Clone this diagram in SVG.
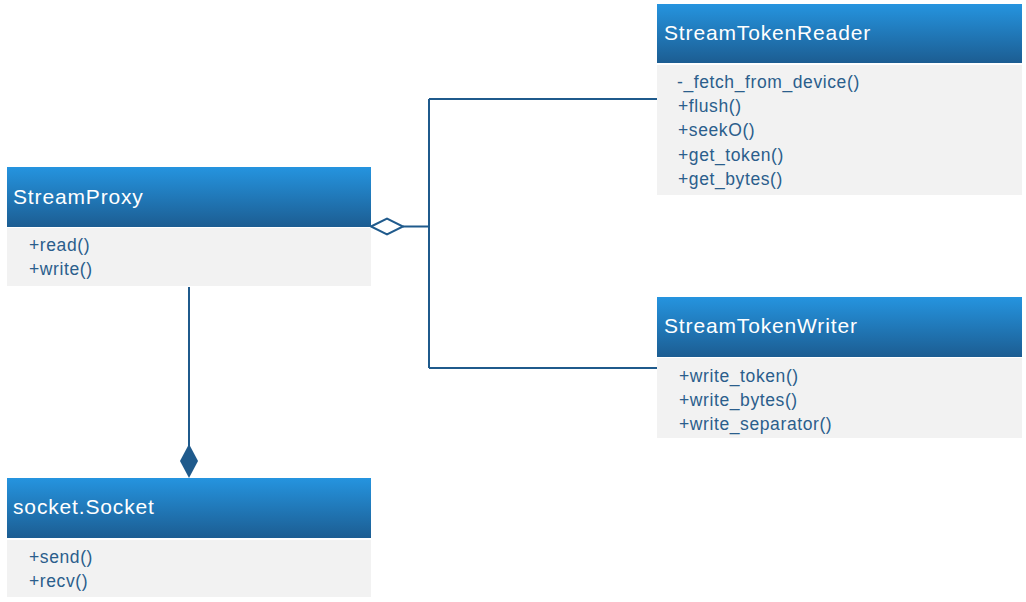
<svg xmlns="http://www.w3.org/2000/svg" width="1026" height="602" viewBox="0 0 1026 602">
<defs>
<linearGradient id="hdr" x1="0" y1="0" x2="0" y2="1">
<stop offset="0" stop-color="#2594df"/>
<stop offset="1" stop-color="#1c5d92"/>
</linearGradient>
<style>
.hdr{fill:url(#hdr)}
.body{fill:#f2f2f2}
.title{font-family:"Liberation Sans",Arial,sans-serif;font-size:21px;letter-spacing:0.85px;fill:#ffffff}
.m{font-family:"Liberation Sans",Arial,sans-serif;font-size:17.5px;letter-spacing:0.6px;fill:#2b5e8c}
.conn{fill:none;stroke:#1f5a8c;stroke-width:2}
</style>
</defs>
<rect width="1026" height="602" fill="#ffffff"/>
<g id="connectors">
<path class="conn" d="M403,226.5 H429 M429,99 V368 M429,99 H657 M429,368 H657"/>
<polygon points="371,226.5 387,218.5 403,226.5 387,234.5" fill="#ffffff" stroke="#1f5a8c" stroke-width="2"/>
<path class="conn" d="M189,287 V446"/>
<polygon points="189,444 198,461 189,478 180,461" fill="#1f5a8c"/>
</g>
<g id="StreamProxy">
<rect class="hdr" x="7" y="167" width="364" height="60"/>
<rect class="body" x="7" y="228" width="364" height="58"/>
<text class="title" x="13" y="204">StreamProxy</text>
<text class="m" x="29" y="251">+read()</text>
<text class="m" x="29" y="275">+write()</text>
</g>
<g id="StreamTokenReader">
<rect class="hdr" x="657" y="4" width="365" height="59"/>
<rect class="body" x="657" y="65" width="365" height="130"/>
<text class="title" x="664" y="40">StreamTokenReader</text>
<text class="m" x="677" y="88">-_fetch_from_device()</text>
<text class="m" x="678" y="112">+flush()</text>
<text class="m" x="678" y="136">+seekO()</text>
<text class="m" x="678" y="161">+get_token()</text>
<text class="m" x="678" y="185">+get_bytes()</text>
</g>
<g id="StreamTokenWriter">
<rect class="hdr" x="657" y="297" width="365" height="60"/>
<rect class="body" x="657" y="358" width="365" height="80"/>
<text class="title" x="664" y="333">StreamTokenWriter</text>
<text class="m" x="679" y="382">+write_token()</text>
<text class="m" x="679" y="406">+write_bytes()</text>
<text class="m" x="679" y="430">+write_separator()</text>
</g>
<g id="socket.Socket">
<rect class="hdr" x="7" y="478" width="364" height="60"/>
<rect class="body" x="7" y="540" width="364" height="57"/>
<text class="title" x="13" y="514">socket.Socket</text>
<text class="m" x="29" y="563">+send()</text>
<text class="m" x="29" y="587">+recv()</text>
</g>
</svg>
